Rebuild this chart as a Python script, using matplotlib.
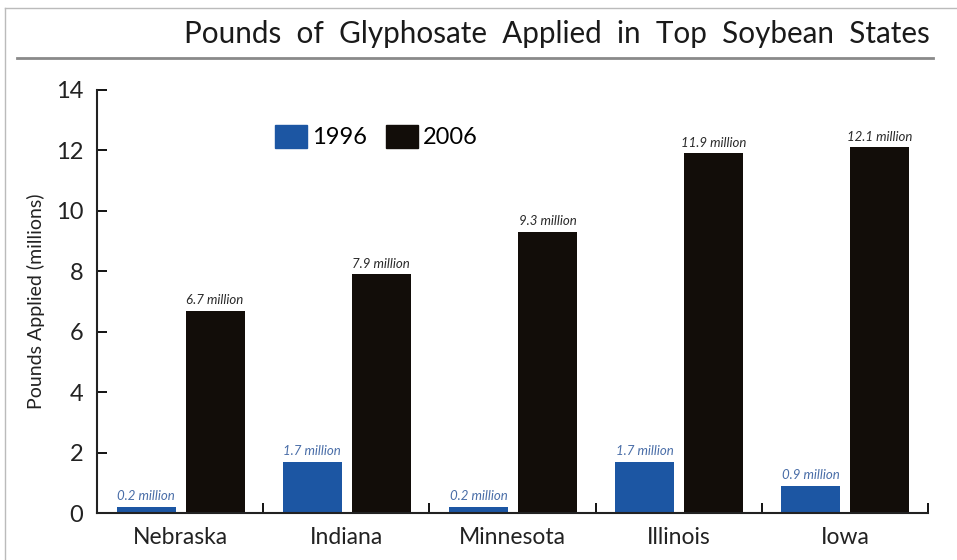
import numpy as np
import matplotlib
matplotlib.use("Agg")
import matplotlib.pyplot as plt
from matplotlib.lines import Line2D
from matplotlib.patches import Patch

plt.rcParams['font.family'] = ['Lato', 'DejaVu Sans']

# Datos
estados = ["Nebraska", "Indiana", "Minnesota", "Illinois", "Iowa"]
valores_1996 = [0.2, 1.7, 0.2, 1.7, 0.9]
valores_2006 = [6.7, 7.9, 9.3, 11.9, 12.1]
etiquetas_1996 = ["0.2 million", "1.7 million", "0.2 million", "1.7 million", "0.9 million"]
etiquetas_2006 = ["6.7 million", "7.9 million", "9.3 million", "11.9 million", "12.1 million"]

color_azul = '#1c56a3'
color_negro = '#120d09'

fig = plt.figure(figsize=(9.57, 5.6), dpi=100)
ax = fig.add_axes([0.1014, 0.0839, 0.8683, 0.7554])

x = np.arange(len(estados))
ancho = 0.355
ax.bar(x - 0.205, valores_1996, width=ancho, color=color_azul)
ax.bar(x + 0.21, valores_2006, width=ancho, color=color_negro)

# Etiquetas de valor
for xi, v, t in zip(x, valores_1996, etiquetas_1996):
    ax.text(xi - 0.205, v + 0.15, t, ha='center', va='bottom', fontsize=9.5,
            style='italic', color='#4a6ea8')
for xi, v, t in zip(x, valores_2006, etiquetas_2006):
    ax.text(xi + 0.21, v + 0.15, t, ha='center', va='bottom', fontsize=9.5,
            style='italic', color='#2a2a2a')

# Ejes
ax.set_xlim(-0.5, 4.5)
ax.set_ylim(0, 14)
ax.set_yticks(np.arange(0, 15, 2))
ax.set_xticks(x)
ax.set_xticklabels(estados, fontsize=16.5, color='#222222')
ax.set_xticks(np.arange(0.5, 5, 1), minor=True)
ax.tick_params(axis='x', which='major', length=0, pad=10)
ax.tick_params(axis='x', which='minor', direction='in', length=7, width=1.3)
ax.tick_params(axis='y', direction='in', length=7, width=1.3, labelsize=17,
               pad=10, labelcolor='#222222')
for s in ['top', 'right']:
    ax.spines[s].set_visible(False)
for s in ['left', 'bottom']:
    ax.spines[s].set_linewidth(1.5)
    ax.spines[s].set_color('#222222')
ax.set_ylabel("Pounds Applied (millions)", fontsize=14, color='#222222', labelpad=8)

# Leyenda
handles = [Patch(color=color_azul, label='1996'), Patch(color=color_negro, label='2006')]
ax.legend(handles=handles, ncol=2, frameon=False, loc='center left',
          bbox_to_anchor=(0.214, 0.89), fontsize=17, handlelength=1.36,
          handleheight=1.15, handletextpad=0.2, columnspacing=0.8,
          borderpad=0, borderaxespad=0)

# Titulo (espaciado amplio entre palabras, como el original) y lineas
titulo = "  ".join("Pounds of Glyphosate Applied in Top Soybean States".split())
fig.text(0.972, 0.923, titulo, ha='right', va='baseline', fontsize=21.3, color='#1a1a1a')
fig.add_artist(Line2D([17/957, 933/957], [1 - 58/560] * 2, color='#8a8a8a', lw=2))
fig.add_artist(Line2D([5/957, 5/957], [0, 1 - 8/560], color='#bbbbbb', lw=1))
fig.add_artist(Line2D([5/957, 1], [1 - 8/560] * 2, color='#bbbbbb', lw=1))

fig.savefig("out.png", dpi=100)
plt.close()
